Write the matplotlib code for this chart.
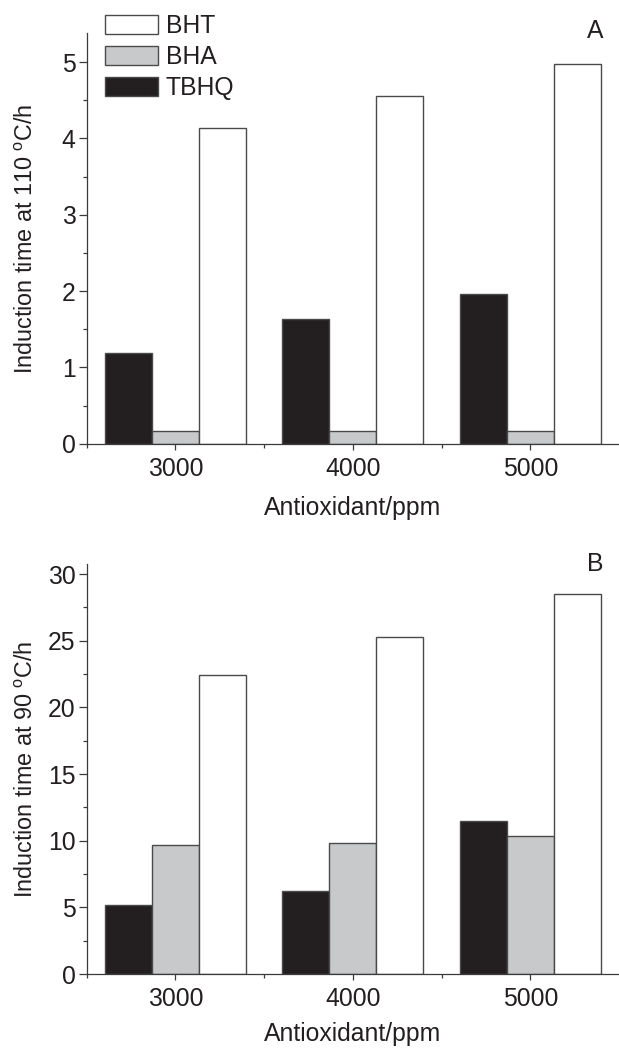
import matplotlib
matplotlib.use("Agg")
import matplotlib.pyplot as plt
import numpy as np

plt.rcParams['font.family'] = ['Liberation Sans', 'DejaVu Sans']
plt.rcParams['mathtext.fontset'] = 'custom'
plt.rcParams['mathtext.rm'] = 'Liberation Sans'

# ---- data ----
concentrations = [3000, 4000, 5000]
series = ['TBHQ', 'BHA', 'BHT']
legend_order = ['BHT', 'BHA', 'TBHQ']
tbhq_110 = [1.19, 1.63, 1.96]
bha_110 = [0.17, 0.17, 0.17]
bht_110 = [4.13, 4.56, 4.98]
tbhq_90 = [5.15, 6.25, 11.45]
bha_90 = [9.70, 9.85, 10.35]
bht_90 = [22.40, 25.30, 28.50]
ylabels = ['Induction time at 110 $^{\\mathrm{o}}$C/h', 'Induction time at 90 $^{\\mathrm{o}}$C/h']
xlabel = 'Antioxidant/ppm'
panel_labels = ['A', 'B']

TXT = '#231f20'
colors = {'TBHQ': '#231f20', 'BHA': '#c8c9cb', 'BHT': '#ffffff'}
EDGE = '#4a4a4a'
FS = 17.8
FSY = 16.8

fig = plt.figure(figsize=(6.19, 10.48), dpi=100)
axA = fig.add_axes([0.140, 0.5766, 0.860, 0.3919])
axB = fig.add_axes([0.140, 0.0706, 0.860, 0.3912])

width = 265
offsets = {'TBHQ': -width, 'BHA': 0, 'BHT': width}

panels = [
    (axA, {'TBHQ': tbhq_110, 'BHA': bha_110, 'BHT': bht_110}, 5.38, 1, 0.5, 11),
    (axB, {'TBHQ': tbhq_90, 'BHA': bha_90, 'BHT': bht_90}, 30.75, 5, 2.5, 8),
]

handles = {}
for i, (ax, data, ytop, major, minor, xpad) in enumerate(panels):
    x = np.array(concentrations, dtype=float)
    for s in series:
        b = ax.bar(x + offsets[s], data[s], width=width, color=colors[s],
                   edgecolor=EDGE, linewidth=1.0, label=s, zorder=2)
        handles[s] = b
    ax.set_xlim(2500, 5500)
    ax.set_ylim(0, ytop)
    ax.set_xticks(concentrations)
    ax.set_xticklabels([str(c) for c in concentrations])
    ax.set_xticks([2500, 3500, 4500], minor=True)
    ax.set_yticks(np.arange(0, ytop, major))
    ax.set_yticks(np.arange(minor, ytop, major), minor=True)
    for sp in ['top', 'right']:
        ax.spines[sp].set_visible(False)
    for sp in ['left', 'bottom']:
        ax.spines[sp].set_color('#3a3a3a')
        ax.spines[sp].set_linewidth(0.9)
    ax.tick_params(axis='y', which='major', direction='out', length=6, width=0.9,
                   color='#3a3a3a', labelsize=FS, labelcolor=TXT, pad=2)
    ax.tick_params(axis='y', which='minor', direction='out', length=3, width=0.9,
                   color='#3a3a3a')
    ax.tick_params(axis='x', which='major', direction='out', length=4.3, width=0.9,
                   color='#3a3a3a', labelsize=FS, labelcolor=TXT, pad=5)
    ax.tick_params(axis='x', which='minor', direction='out', length=3, width=0.9,
                   color='#3a3a3a')
    ax.set_xlabel(xlabel, fontsize=FS, color=TXT, labelpad=xpad)
    ax.set_ylabel(ylabels[i], fontsize=FSY, color=TXT)
    ax.yaxis.set_label_coords(-0.0915, 0.5)
    ax.text(0.955, 0.988 if i == 0 else 0.983, panel_labels[i], transform=ax.transAxes,
            ha='center', va='baseline', fontsize=FS, color=TXT)

axA.legend([handles[s] for s in legend_order], legend_order,
           loc='upper left', bbox_to_anchor=(105 / 619, 1 - 14 / 1048),
           bbox_transform=fig.transFigure, frameon=False, fontsize=FS,
           borderpad=0, borderaxespad=0, handlelength=2.15, handleheight=0.78,
           handletextpad=0.3, labelspacing=0.28, labelcolor=TXT)

fig.savefig('out.png', dpi=100)
